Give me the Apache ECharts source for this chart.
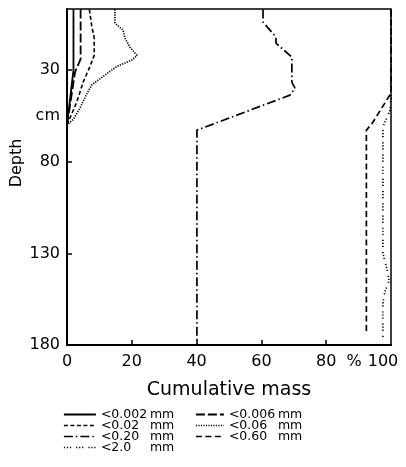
<!DOCTYPE html>
<html>
<head>
<meta charset="utf-8">
<script src="https://cdn.jsdelivr.net/npm/echarts@6/dist/echarts.min.js"></script>
<style>html,body{margin:0;padding:0;background:#fff}#c{width:406px;height:467px}</style>
</head>
<body>
<div id="c"></div>
<script>
// ---- data (cumulative mass %, by depth cm) ----
const depth002 = [-3, 30, 60, 180];
const mass002  = [2.0, 2.0, 0, 0];

const depth006 = [-3, 24, 31, 60, 180];
const mass006  = [4.2, 4.2, 2.5, 0, 0];

const depth02 = [-3, 5.5, 12.6, 22, 28, 36.6, 47.5, 60, 180];
const mass02  = [6.9, 7.6, 8.4, 8.4, 7.1, 5.0, 3.0, 0, 0];

const depth06 = [-3, 4.4, 8.2, 12.6, 17.5, 22, 24.6, 28, 32.8, 38, 42.6, 50.8, 57, 60, 180];
const mass06  = [14.8, 14.8, 17.3, 17.9, 19.4, 21.6, 20.0, 15.4, 11.7, 7.7, 6.2, 4.0, 1.9, 0, 0];

const depth20 = [-3, 3.8, 12, 15.3, 23, 36.6, 40, 43.7, 62.8, 180];
const mass20  = [60.5, 60.5, 64.5, 64.5, 69.4, 69.4, 70.4, 68.8, 40.1, 40.1];

const depth60 = [-3, 42.6, 58.5, 62.8, 174];
const mass60  = [100, 100, 94.4, 92.4, 92.4];

const depth2mm = [-3, 45, 52, 61, 130, 139, 145, 151, 157, 176.5];
const mass2mm  = [100, 100, 99.7, 97.5, 97.5, 98.8, 99.4, 98.1, 97.5, 97.5];

const names = ['<0.002 mm', '<0.006 mm', '<0.02 mm', '<0.06 mm', '<0.20 mm', '<0.60 mm', '<2.0 mm'];
const xTickValues = [0, 20, 40, 60, 80, 100];
const yTickValues = [30, 80, 130, 180];
const yUnitPos = 55;      // where "cm" sits
const xUnitPos = 88.6;    // where "%" sits

// ---- build ----
function zip(m, d) { return m.map((v, i) => [v, d[i]]); }
const seriesData = [
  zip(mass002, depth002), zip(mass006, depth006), zip(mass02, depth02),
  zip(mass06, depth06), zip(mass20, depth20), zip(mass60, depth60), zip(mass2mm, depth2mm)
];
const dashes = [
  'solid',
  [9, 3],
  [4, 2.5],
  [1.2, 1.3],
  [9, 3, 1.5, 3],
  [6, 3.5],
  [1.2, 1.8, 1.2, 1.8, 1.2, 5]
];
const widths = [1.8, 1.8, 1.6, 1.7, 1.7, 1.7, 1.7];

const FONT = 'DejaVu Sans';
const chart = echarts.init(document.getElementById('c'), null, {renderer: 'canvas'});

const series = names.map((n, i) => ({
  name: n,
  type: 'line',
  data: seriesData[i],
  symbol: 'none',
  showSymbol: false,
  legendIcon: 'none',
  silent: true,
  animation: false,
  lineStyle: {color: '#000', width: widths[i], type: dashes[i], cap: 'butt'},
  itemStyle: {color: '#000'},
  z: 3
}));

function legendFmt(name) {
  const p = name.split(' ');
  return '{a|' + p[0] + '}{b|' + p[1] + '}';
}
const legendText = {
  fontFamily: FONT, fontSize: 12.5, color: '#000', lineHeight: 11,
  rich: {
    a: {fontFamily: FONT, fontSize: 12.5, width: 49, lineHeight: 11, color: '#000'},
    b: {fontFamily: FONT, fontSize: 12.5, lineHeight: 11, color: '#000'}
  }
};
const legendCommon = {
  orient: 'vertical', top: 408, itemGap: -2, padding: 0, height: 60,
  itemHeight: 8, formatter: legendFmt, textStyle: legendText, selectedMode: false,
  itemStyle: {opacity: 0},
  lineStyle: {width: 'inherit', type: 'inherit', color: '#000'}
};

chart.setOption({
  animation: false,
  backgroundColor: '#fff',
  grid: {left: 67, right: 15, top: 9, bottom: 122, show: true, borderColor: '#000', borderWidth: 1.5,
         backgroundColor: 'transparent', containLabel: false, outerBoundsMode: 'none'},
  xAxis: {
    type: 'value', min: 0, max: 100,
    name: 'Cumulative mass', nameLocation: 'middle', nameGap: 36, nameMoveOverlap: false,
    nameTextStyle: {fontFamily: FONT, fontSize: 19, color: '#000'},
    axisLine: {show: true, onZero: false, lineStyle: {color: '#000', width: 2}},
    axisTick: {show: true, inside: true, length: 5, customValues: [20, 40, 60, 80], lineStyle: {color: '#000', width: 1.5}},
    axisLabel: {
      customValues: xTickValues.concat([xUnitPos]),
      margin: 9, fontFamily: FONT, fontSize: 16, color: '#000',
      formatter: v => (Math.abs(v - xUnitPos) < 1e-6 ? '%' : (v === 100 ? '{r|100}' : String(v))),
      rich: {r: {fontFamily: FONT, fontSize: 16, color: '#000', padding: [0, 16, 0, 0]}}
    },
    splitLine: {show: false}
  },
  yAxis: {
    type: 'value', inverse: true, min: -3.3, max: 180,
    name: 'Depth', nameLocation: 'middle', nameGap: 42, nameMoveOverlap: false,
    nameTextStyle: {fontFamily: FONT, fontSize: 16, color: '#000', padding: [0, 0, 0, 28]},
    axisLine: {show: true, onZero: false, lineStyle: {color: '#000', width: 2}},
    axisTick: {show: true, inside: true, length: 5, customValues: yTickValues, lineStyle: {color: '#000', width: 1.5}},
    axisLabel: {
      customValues: yTickValues.concat([yUnitPos]),
      margin: 7, fontFamily: FONT, fontSize: 16, color: '#000',
      formatter: v => (v === yUnitPos ? 'cm' : String(v))
    },
    splitLine: {show: false}
  },
  legend: [
    Object.assign({}, legendCommon, {data: [names[0], names[2], names[4], names[6]], left: 63, itemWidth: 32}),
    Object.assign({}, legendCommon, {data: [names[1], names[3], names[5]], left: 195, itemWidth: 28})
  ],
  series: series
});
</script>
</body>
</html>
